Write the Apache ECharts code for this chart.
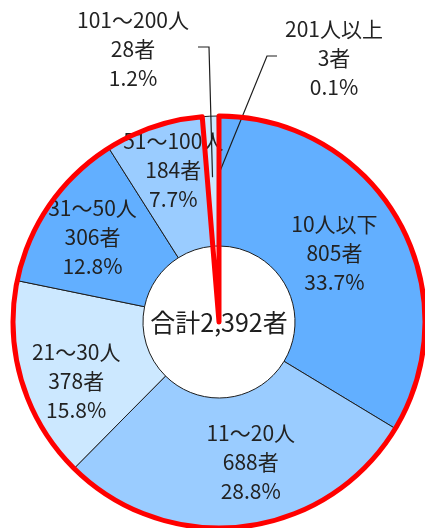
<!DOCTYPE html>
<html>
<head>
<meta charset="utf-8">
<script src="https://cdn.jsdelivr.net/npm/echarts@6/dist/echarts.min.js"></script>
<style>
  html, body { margin: 0; padding: 0; background: #fff; }
  #chart { width: 425px; height: 528px; }
</style>
</head>
<body>
<div id="chart"></div>
<script>
// Business sizes (number of employees) and establishment counts
const categories = ['10人以下', '11～20人', '21～30人', '31～50人', '51～100人', '101～200人', '201人以上'];
const counts = [805, 688, 378, 306, 184, 28, 3];
const shares = ['33.7', '28.8', '15.8', '12.8', '7.7', '1.2', '0.1'];
const sliceColors = ['#62AFFF', '#9ACCFF', '#CCE8FF', '#62AFFF', '#9ACCFF', '#CCE8FF', '#62AFFF'];

// Geometry of the ring
const CX = 219, CY = 322, R0 = 76, R1 = 206;
const FONT = '"Noto Sans CJK JP", "Noto Sans", sans-serif';

// Small slices whose labels sit above the ring, joined by leader lines
const outsideLabels = {
  5: { x: 133, y: 49, elbow: [209, 47], end: [198, 47], r: 145 },
  6: { x: 334, y: 58, elbow: [267, 56], end: [277, 56], r: 147 }
};
// Small shifts for labels inside the ring
const labelNudge = [[-10, 2], [14, -3], [-5, 17], [-8, -3], [0, -15], [0, 0], [0, 0]];

const total = counts.reduce((a, b) => a + b, 0);
const bigGroup = counts.slice(0, 5).reduce((a, b) => a + b, 0);
const smallGroup = total - bigGroup;

// angle (clockwise from 12 o'clock) through the middle of slice i
function midAngle(i) {
  let before = 0;
  for (let k = 0; k < i; k++) before += counts[k];
  return (before + counts[i] / 2) / total * Math.PI * 2;
}

const data = categories.map((name, i) => {
  const item = { name: name, value: counts[i], itemStyle: { color: sliceColors[i] } };
  if (outsideLabels[i]) item.label = { position: 'outside' };
  return item;
});

// leader lines from inside each small slice up to its label
const leaders = Object.keys(outsideLabels).map(key => {
  const i = Number(key);
  const o = outsideLabels[i];
  const a = midAngle(i);
  const anchor = [CX + o.r * Math.sin(a), CY - o.r * Math.cos(a)];
  return {
    type: 'polyline',
    z: 3,
    silent: true,
    shape: { points: [anchor, o.elbow, o.end] },
    style: { stroke: '#1e1e1e', lineWidth: 1.2, fill: null }
  };
});

const chart = echarts.init(document.getElementById('chart'), null, { renderer: 'canvas' });
chart.setOption({
  animation: false,
  backgroundColor: '#ffffff',
  series: [
    {
      type: 'pie',
      center: [CX, CY],
      radius: [R0, R1],
      startAngle: 90,
      clockwise: true,
      avoidLabelOverlap: false,
      z: 2,
      itemStyle: { borderColor: '#1e1e1e', borderWidth: 1 },
      label: {
        show: true,
        position: 'inside',
        fontFamily: FONT,
        fontSize: 21,
        lineHeight: 29,
        color: '#222222',
        formatter: p => p.name + '\n' + p.value + '者\n' + shares[p.dataIndex] + '%'
      },
      labelLine: { show: false },
      labelLayout: function (p) {
        const i = p.dataIndex;
        const o = outsideLabels[i];
        if (o) {
          return { x: o.x, y: o.y, align: 'center', verticalAlign: 'middle' };
        }
        return { dx: labelNudge[i][0], dy: labelNudge[i][1] };
      },
      data: data
    },
    {
      // red outline around the five largest size classes
      type: 'pie',
      center: [CX, CY],
      radius: [0, R1],
      startAngle: 90,
      clockwise: true,
      silent: true,
      z: 5,
      label: { show: false },
      labelLine: { show: false },
      data: [
        { name: 'main', value: bigGroup, itemStyle: { color: 'rgba(0,0,0,0)', borderColor: '#FF0000', borderWidth: 5 } },
        { name: 'rest', value: smallGroup, itemStyle: { color: 'rgba(0,0,0,0)', borderWidth: 0 } }
      ]
    }
  ],
  graphic: leaders.concat([
    {
      type: 'text',
      x: CX,
      y: CY,
      z: 100,
      style: {
        text: '合計' + total.toLocaleString('en-US') + '者',
        fontFamily: FONT,
        fontSize: 25,
        fill: '#1e1e1e',
        align: 'center',
        verticalAlign: 'middle',
        textAlign: 'center',
        textVerticalAlign: 'middle'
      }
    }
  ])
});
</script>
</body>
</html>
